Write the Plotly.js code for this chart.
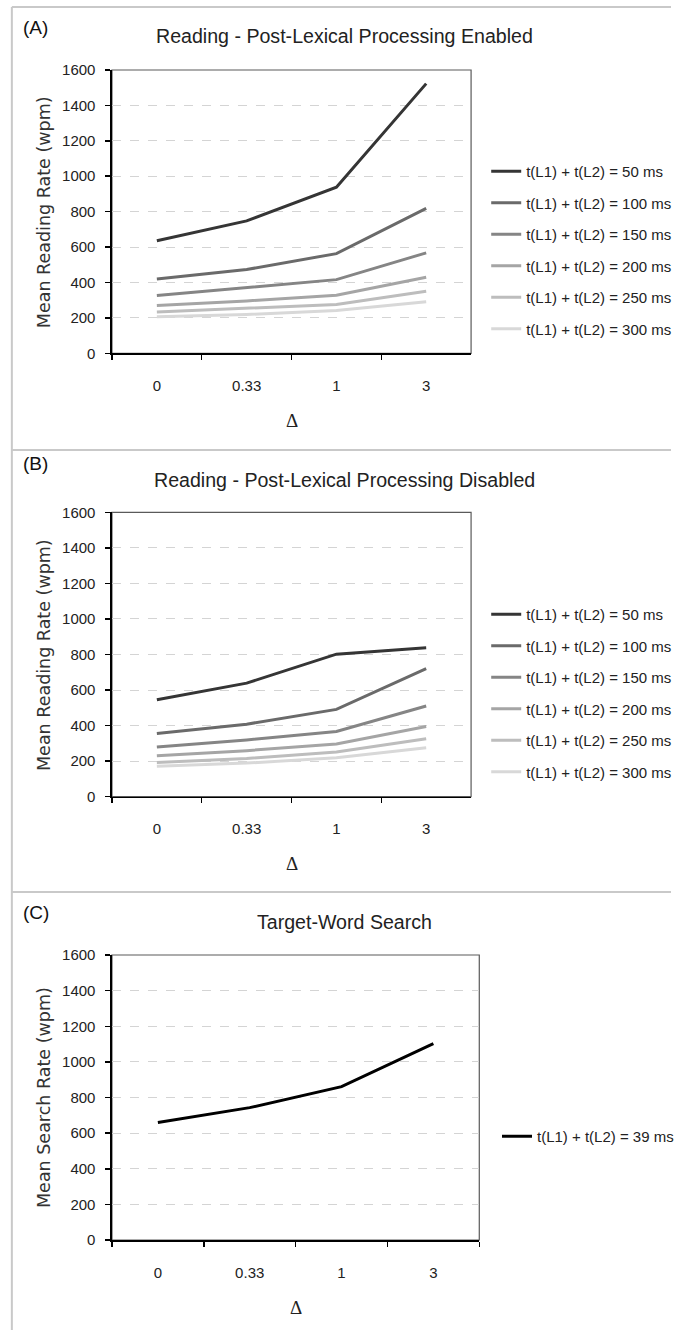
<!DOCTYPE html>
<html>
<head>
<meta charset="utf-8">
<script src="https://cdn.plot.ly/plotly-3.0.1.min.js"></script>
<style>html,body{margin:0;padding:0;background:#fff;}#chart{width:679px;height:1330px;}</style>
</head>
<body>
<div id="chart"></div>
<script>
// ---- data ----
const categories = ['0', '0.33', '1', '3'];
const seriesNames = ['t(L1) + t(L2) = 50 ms', 't(L1) + t(L2) = 100 ms', 't(L1) + t(L2) = 150 ms',
                     't(L1) + t(L2) = 200 ms', 't(L1) + t(L2) = 250 ms', 't(L1) + t(L2) = 300 ms'];
const searchName = 't(L1) + t(L2) = 39 ms';
const enabled50  = [636, 748, 938, 1523];
const enabled100 = [420, 473, 563, 818];
const enabled150 = [326, 370, 416, 567];
const enabled200 = [270, 296, 328, 430];
const enabled250 = [233, 255, 276, 351];
const enabled300 = [206, 219, 242, 291];
const disabled50  = [545, 639, 802, 838];
const disabled100 = [356, 408, 491, 721];
const disabled150 = [279, 319, 367, 510];
const disabled200 = [230, 259, 296, 395];
const disabled250 = [193, 215, 251, 326];
const disabled300 = [172, 189, 219, 275];
const search39 = [660, 743, 861, 1102];
const yTicks = [0, 200, 400, 600, 800, 1000, 1200, 1400, 1600];

// ---- styling ----
const W = 679, H = 1330;
const px = x => x / W;
const py = y => 1 - y / H;
const greys = ['#353535', '#6a6a6a', '#858585', '#a5a5a5', '#bdbdbd', '#d8d8d8'];
const NARROW = '"Liberation Sans Narrow", "Arial Narrow", "Liberation Sans", sans-serif';
const tickFont = {family: NARROW, size: 15, color: '#222'};

const enabled = [enabled50, enabled100, enabled150, enabled200, enabled250, enabled300];
const disabled = [disabled50, disabled100, disabled150, disabled200, disabled250, disabled300];

const traces = [];
enabled.forEach((ys, i) => traces.push({
  x: categories, y: ys, type: 'scatter', mode: 'lines', name: seriesNames[i],
  line: {color: greys[i], width: 3}, xaxis: 'x', yaxis: 'y', legend: 'legend',
  legendgroup: 'a' + i
}));
disabled.forEach((ys, i) => traces.push({
  x: categories, y: ys, type: 'scatter', mode: 'lines', name: seriesNames[i],
  line: {color: greys[i], width: 3}, xaxis: 'x2', yaxis: 'y2', legend: 'legend2',
  legendgroup: 'b' + i
}));
traces.push({
  x: categories, y: search39, type: 'scatter', mode: 'lines', name: searchName,
  line: {color: '#000', width: 3}, xaxis: 'x3', yaxis: 'y3', legend: 'legend3'
});

function xax(domain, anchor) {
  return {
    domain: domain, anchor: anchor, type: 'category', range: [-0.5, 3.5],
    tickson: 'boundaries', ticks: 'outside', ticklen: 5, tickwidth: 1.5, tickcolor: '#000',
    showline: true, linecolor: '#000', linewidth: 1.5, showgrid: false, zeroline: false,
    tickfont: tickFont, ticklabelstandoff: 18, fixedrange: true
  };
}
function yax(domain, anchor) {
  return {
    domain: domain, anchor: anchor, range: [0, 1600], tickvals: yTicks,
    ticks: 'outside', ticklen: 5, tickwidth: 1.5, tickcolor: '#000',
    showline: true, linecolor: '#000', linewidth: 1.5,
    showgrid: true, gridcolor: '#d4d4d4', gridwidth: 1, griddash: 'dash', zeroline: false,
    tickfont: tickFont, ticklabelstandoff: 7, fixedrange: true
  };
}
function legendAt(x, y) {
  return {
    x: px(x), y: py(y), xanchor: 'left', yanchor: 'top', bgcolor: 'rgba(0,0,0,0)',
    font: {family: NARROW, size: 15, color: '#222'}, traceorder: 'grouped', tracegroupgap: 9,
    itemclick: false, itemdoubleclick: false
  };
}

const panels = [
  {x0: 113.3, x1: 476.7, top: 70, bottom: 353.3, label: '(A)', labelY: 28,
   title: 'Reading - Post-Lexical Processing Enabled', titleY: 36, ytitle: 'Mean Reading Rate (wpm)'},
  {x0: 113.3, x1: 476.7, top: 512.3, bottom: 796.7, label: '(B)', labelY: 463,
   title: 'Reading - Post-Lexical Processing Disabled', titleY: 480, ytitle: 'Mean Reading Rate (wpm)'},
  {x0: 113.3, x1: 485, top: 955, bottom: 1240, label: '(C)', labelY: 913,
   title: 'Target-Word Search', titleY: 922, ytitle: 'Mean Search Rate (wpm)'}
];

const annotations = [];
const shapes = [];
panels.forEach(p => {
  const cx = (p.x0 + p.x1) / 2;
  annotations.push({xref: 'paper', yref: 'paper', x: px(21), y: py(p.labelY), xanchor: 'left', yanchor: 'middle',
    text: p.label, showarrow: false, font: {family: NARROW, size: 19, color: '#111'}});
  annotations.push({xref: 'paper', yref: 'paper', x: px(349), y: py(p.titleY), xanchor: 'center', yanchor: 'middle',
    text: p.title, showarrow: false, font: {family: NARROW, size: 19.6, color: '#222'}});
  annotations.push({xref: 'paper', yref: 'paper', x: px(44), y: py((p.top + p.bottom) / 2), xanchor: 'center', yanchor: 'middle',
    text: p.ytitle, textangle: -90, showarrow: false, font: {family: '"DejaVu Sans", sans-serif', size: 17.5, color: '#333'}});
  annotations.push({xref: 'paper', yref: 'paper', x: px(cx), y: py(p.bottom + 67), xanchor: 'center', yanchor: 'middle',
    text: 'Δ', showarrow: false, font: {family: '"Liberation Serif", "DejaVu Serif", serif', size: 19, color: '#222'}});
  shapes.push({type: 'rect', xref: 'paper', yref: 'paper', x0: px(p.x0), x1: px(p.x1), y0: py(p.bottom), y1: py(p.top),
    line: {color: '#5a5a5a', width: 1.2}, layer: 'below'});
});
// figure frame and separators
const frameLine = {color: '#c9c9c9', width: 2};
shapes.push({type: 'line', xref: 'paper', yref: 'paper', x0: px(12), x1: 1, y0: py(7), y1: py(7), line: frameLine});
shapes.push({type: 'line', xref: 'paper', yref: 'paper', x0: px(12), x1: px(12), y0: py(7), y1: 0, line: frameLine});
shapes.push({type: 'line', xref: 'paper', yref: 'paper', x0: px(12), x1: 1, y0: py(450), y1: py(450), line: frameLine});
shapes.push({type: 'line', xref: 'paper', yref: 'paper', x0: px(12), x1: 1, y0: py(892), y1: py(892), line: frameLine});

const layout = {
  width: W, height: H, margin: {l: 0, r: 0, t: 0, b: 0},
  paper_bgcolor: '#fff', plot_bgcolor: '#fff', showlegend: true,
  xaxis:  xax([px(113.3), px(476.7)], 'y'),
  yaxis:  yax([py(353.3), py(70)], 'x'),
  xaxis2: xax([px(113.3), px(476.7)], 'y2'),
  yaxis2: yax([py(796.7), py(512.3)], 'x2'),
  xaxis3: xax([px(113.3), px(485)], 'y3'),
  yaxis3: yax([py(1240), py(955)], 'x3'),
  legend:  legendAt(492, 155),
  legend2: legendAt(492, 598),
  legend3: legendAt(503, 1120),
  annotations: annotations, shapes: shapes
};

Plotly.newPlot('chart', traces, layout, {staticPlot: true, displayModeBar: false});
</script>
</body>
</html>
